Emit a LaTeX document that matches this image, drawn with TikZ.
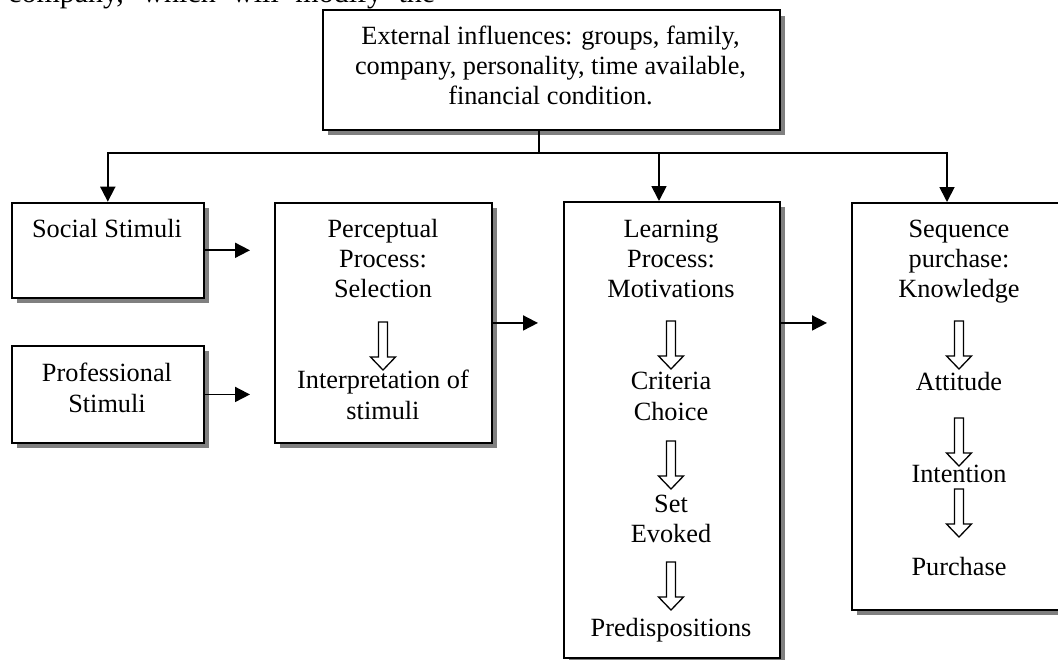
\documentclass[tikz,border=0pt]{standalone}
\usepackage{fontspec}
\setmainfont{Liberation Serif}
\usetikzlibrary{arrows.meta,shadows}
\definecolor{shgray}{RGB}{128,128,128}
\begin{document}
\begin{tikzpicture}[x=1pt,y=-1pt,
  box/.style={draw, line width=1.9pt, fill=white, inner sep=0pt, anchor=north west,
    drop shadow={shadow xshift=5.5pt, shadow yshift=-5.5pt, fill=shgray, opacity=1}},
  txt/.style={anchor=base, inner sep=0pt, font=\fontsize{26.3}{30.3}\selectfont},
  conn/.style={line width=1.8pt},
  arr/.style={line width=1.8pt, -{Triangle[length=15pt,width=15pt]}},
  hollow/.pic={\draw[line width=1.3pt, fill=white, line join=miter]
     (-4.5,0) -- (4.5,0) -- (4.5,35) -- (12.5,35) -- (0,48) -- (-12.5,35) -- (-4.5,35) -- cycle;}
]
\useasboundingbox (0,0) rectangle (1058,659);
\clip (0,0) rectangle (1058,659);

% cut-off line of the surrounding text
\node[txt, anchor=base west, font=\fontsize{30}{34}\selectfont] (cut) at (8,2) {\makebox[427pt][s]{company, which will modify the}};

% boxes
\node[box, minimum width=457pt, minimum height=119.7pt] (top) at (322,9.3) {};
\node[box, minimum width=192.3pt, minimum height=95.3pt] (social) at (10.7,201.7) {};
\node[box, minimum width=192.3pt, minimum height=97pt] (prof) at (10.7,345) {};
\node[box, minimum width=217pt, minimum height=240pt] (perc) at (274,202) {};
\node[box, minimum width=216pt, minimum height=456pt] (learn) at (563,201) {};
\node[box, minimum width=216pt, minimum height=407pt] (seq) at (851,202) {};

% texts
\node[txt] (top1) at (550.5,44) {External influences: groups, family,};
\node[txt] (top2) at (550.5,74.3) {company, personality, time available,};
\node[txt] (top3) at (550.5,104.6) {financial condition.};

\node[txt] (soc1) at (107,237) {Social Stimuli};

\node[txt] (pro1) at (107,381) {Professional};
\node[txt] (pro2) at (107,412) {Stimuli};

\node[txt] (per1) at (383,237) {Perceptual};
\node[txt] (per2) at (383,267) {Process:};
\node[txt] (per3) at (383,297) {Selection};
\node[txt] (per4) at (383,388) {Interpretation of};
\node[txt] (per5) at (383,419) {stimuli};

\node[txt] (lea1) at (671,237) {Learning};
\node[txt] (lea2) at (671,267) {Process:};
\node[txt] (lea3) at (671,297) {Motivations};
\node[txt] (lea4) at (671,389) {Criteria};
\node[txt] (lea5) at (671,420) {Choice};
\node[txt] (lea6) at (671,512) {Set};
\node[txt] (lea7) at (671,542) {Evoked};
\node[txt] (lea8) at (671,636) {Predispositions};

\node[txt] (seq1) at (959,237) {Sequence};
\node[txt] (seq2) at (959,267) {purchase:};
\node[txt] (seq3) at (959,297) {Knowledge};
\node[txt] (seq4) at (959,390) {Attitude};
\node[txt] (seq5) at (959,482) {Intention};
\node[txt] (seq6) at (959,575) {Purchase};

% hollow block arrows
\pic at (383,322) {hollow};
\pic at (671,321) {hollow};
\pic at (671,441) {hollow};
\pic at (671,562) {hollow};
\pic at (959,321) {hollow};
\pic at (959,418) {hollow};
\pic at (959,489) {hollow};

% connectors
\coordinate (hub) at (539,153);
\coordinate (lj) at (659,153);
\coordinate (rj) at (947,153);
\draw[conn] (top.south -| hub) -- (hub);
\draw[arr] (hub) -| (social.north);
\draw[arr] (hub) -| (rj |- seq.north);
\draw[arr] (lj) -- (lj |- learn.north);

\draw[arr, shorten >=24pt] (social.east) -- (social.east -| perc.west);
\draw[arr, shorten >=24pt] (prof.east) -- (prof.east -| perc.west);
\draw[arr, shorten >=25pt] (perc.east) -- (perc.east -| learn.west);
\draw[arr, shorten >=24pt] (perc.east -| learn.east) -- (perc.east -| seq.west);
\end{tikzpicture}
\end{document}
